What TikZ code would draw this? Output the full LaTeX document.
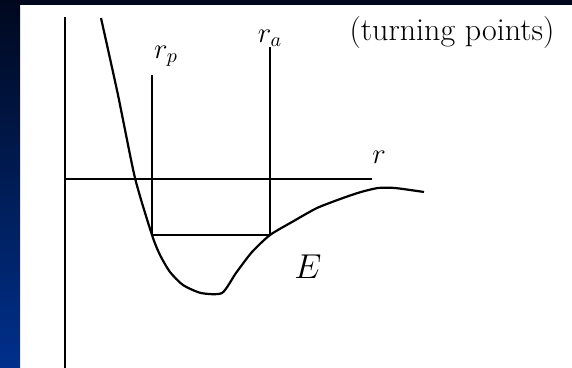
\documentclass[tikz,border=0pt]{standalone}
\definecolor{navytop}{RGB}{0,8,30}
\definecolor{navybot}{RGB}{0,48,140}
\begin{document}
\begin{tikzpicture}[x=0.5pt,y=-0.5pt,
    axis/.style={line width=1.3pt},
    potential/.style={line width=1.1pt, line join=round},
    lbl/.style={inner sep=0pt, font=\fontsize{14}{16}\selectfont},
    note/.style={inner sep=0pt, font=\fontsize{16}{18}\selectfont}]

    \useasboundingbox (0,0) rectangle (572,368);

    % Rahmen (Folienhintergrund)
    \fill[white] (0,0) rectangle (572,368);
    \shade[top color=navytop, bottom color=navybot] (0,0) rectangle (20,368);
    \fill[navytop] (0,0) rectangle (572,5);

    % Achsen
    \coordinate (o) at (65,179);
    \coordinate (ytop) at (65,17);
    \coordinate (ybot) at (65,368);
    \coordinate (xend) at (372,179);
    \draw[axis] (ytop) -- (ybot);
    \draw[axis] (o) -- (xend);
    \node[lbl] (rlabel) at (379,157) {$r$};

    % Umkehrpunkte
    \coordinate (tp) at (152,235);
    \coordinate (ta) at (270,235);
    \coordinate (tptop) at (152,75);
    \coordinate (tatop) at (270,47);
    \draw[axis] (tp) -- (ta);
    \draw[axis] (tp) -- (tptop);
    \draw[axis] (ta) -- (tatop);
    \node[lbl] (rp) at (166,56) {$r_p$};
    \node[lbl] (ra) at (270,38) {$r_a$};

    % Potentialkurve
    \draw[potential] plot[smooth, tension=0.4] coordinates {
        (101,18) (118,95) (135,178) (152,235)
        (160,255) (170,272) (183,285) (201,293) (222,293)
        (236,273) (252,252) (270,235) (292,222) (317,208)
        (343,198) (361,192) (378,188) (395,188) (424,192)
    };

    % Beschriftungen
    \node[inner sep=0pt, font=\fontsize{18}{20}\selectfont] (elabel) at (308,267) {$E$};
    \node[note] (turn) at (452,33) {(turning points)};

\end{tikzpicture}
\end{document}
